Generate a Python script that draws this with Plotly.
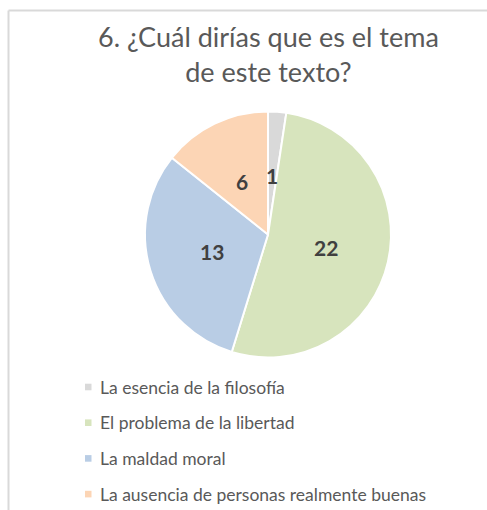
import math
import plotly.graph_objects as go

labels = ["La esencia de la filosofía", "El problema de la libertad",
          "La maldad moral", "La ausencia de personas realmente buenas"]
values = [1, 22, 13, 6]
colors = ["#D9D9D9", "#D7E4BD", "#B9CDE5", "#FCD5B5"]
title = "6. ¿Cuál dirías que es el tema<br>de este texto?"

W, H = 487, 510
FONT = "Lato, 'Open Sans', sans-serif"

# pie geometry (pixels)
CX, CY, R = 268, 234.5, 123
LABEL_F = 0.48

fig = go.Figure()
fig.add_trace(go.Pie(
    labels=labels, values=values, sort=False, direction="clockwise", rotation=0,
    marker=dict(colors=colors, line=dict(color="white", width=2)),
    textinfo="none",
    domain=dict(x=[(CX - R) / W, (CX + R) / W], y=[1 - (CY + R) / H, 1 - (CY - R) / H]),
    showlegend=False, hoverinfo="label+value+percent",
))

shapes = [
    dict(type="line", xref="paper", yref="paper", x0=8.5 / W, x1=1.0, y0=1 - 10.5 / H, y1=1 - 10.5 / H,
         line=dict(color="#D9D9D9", width=2)),
    dict(type="line", xref="paper", yref="paper", x0=8.5 / W, x1=8.5 / W, y0=0, y1=1 - 10.5 / H,
         line=dict(color="#D9D9D9", width=2)),
]
annotations = [dict(text=title, x=268 / W, y=1 - 54 / H, xref="paper", yref="paper",
                    showarrow=False, xanchor="center", yanchor="middle",
                    font=dict(family=FONT, size=27, color="#595959"))]

# value labels placed at each slice's mid-angle (derived from the data)
total = sum(values)
cum = 0
for v in values:
    theta = 2 * math.pi * (cum + v / 2) / total
    cum += v
    px = CX + R * LABEL_F * math.sin(theta)
    py = CY - R * LABEL_F * math.cos(theta)
    annotations.append(dict(text=f"<b>{v}</b>", x=px / W, y=1 - py / H, xref="paper", yref="paper",
                            showarrow=False, xanchor="center", yanchor="middle",
                            font=dict(family=FONT, size=21, color="#404040")))

legend_top = 387
legend_step = 35.7
for i, (lab, col) in enumerate(zip(labels, colors)):
    yc = legend_top + i * legend_step
    shapes.append(dict(type="rect", xref="paper", yref="paper",
                       x0=85 / W, x1=91.5 / W, y0=1 - (yc + 3.3) / H, y1=1 - (yc - 3.3) / H,
                       fillcolor=col, line=dict(width=0)))
    annotations.append(dict(text=lab, x=97.5 / W, y=1 - yc / H, xref="paper", yref="paper",
                            showarrow=False, xanchor="left", yanchor="middle",
                            font=dict(family=FONT, size=17.5, color="#595959")))

fig.update_layout(
    width=W, height=H, margin=dict(l=0, r=0, t=0, b=0),
    paper_bgcolor="white", plot_bgcolor="white",
    shapes=shapes, annotations=annotations,
)
fig.write_html("out.html", config={"displayModeBar": False},
               post_script="document.body.style.margin='0';")
